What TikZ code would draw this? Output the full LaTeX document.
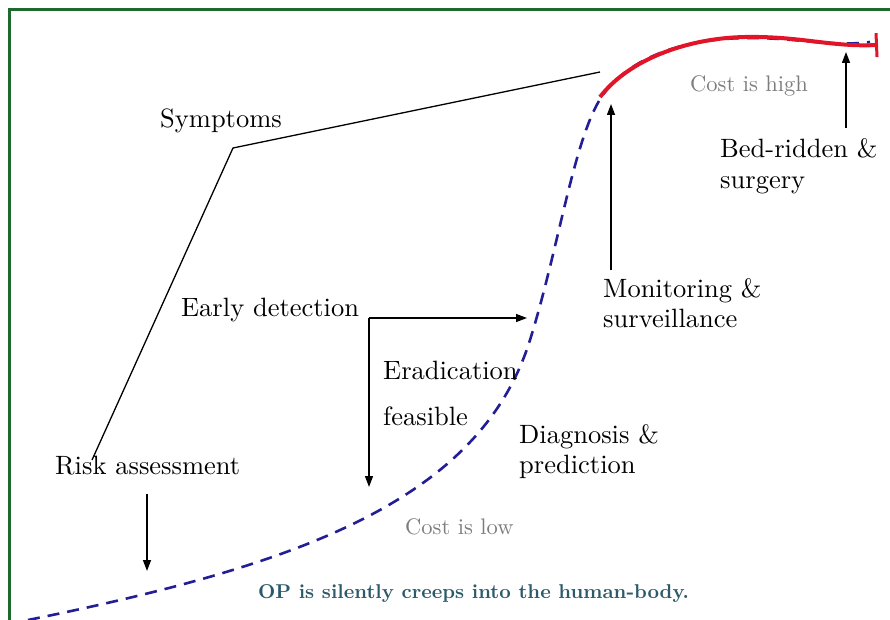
\documentclass[tikz,border=0pt]{standalone}
\usepackage{fontspec}
\setmainfont{lmroman10-regular.otf}[BoldFont=lmroman10-bold.otf, ItalicFont=lmroman10-italic.otf]
\usetikzlibrary{arrows.meta}
\definecolor{framegreen}{RGB}{30,105,45}
\definecolor{curveblue}{RGB}{35,30,150}
\definecolor{curvered}{RGB}{225,20,40}
\definecolor{costgray}{RGB}{125,125,125}
\definecolor{opteal}{RGB}{45,90,105}
\tikzset{
  lbl/.style={anchor=base west, inner sep=0pt, font=\fontsize{26.5}{30}\selectfont, text=black},
  costlbl/.style={anchor=base west, inner sep=0pt, font=\fontsize{22.5}{26}\selectfont, text=costgray},
  oplbl/.style={anchor=base west, inner sep=0pt, font=\fontsize{20}{23}\selectfont\bfseries, text=opteal},
  blackline/.style={line width=1.3pt, black},
  arr/.style={line width=1.4pt, black, -{Triangle[length=11pt,width=8pt]}},
  dashcurve/.style={line width=2.6pt, curveblue, dash pattern=on 12pt off 8pt},
  redcurve/.style={line width=4pt, curvered, -{Bar[width=24pt,line width=3pt]}},
  frame/.style={line width=3pt, framegreen}
}
\begin{document}
\begin{tikzpicture}[x=1pt,y=-1pt]
\useasboundingbox[fill=white] (0,0) rectangle (890,620);
% frame
\draw[frame] (9,620) -- (9,10) -- (890,10);
% curves
\draw[dashcurve] (28,620) .. controls (300,565) and (480,500) .. (530,340)
  .. controls (560,244) and (575,130) .. (605,92)
  .. controls (635,54) and (690,38) .. (750,38)
  .. controls (800,38) and (830,47) .. (870,42);
\draw[redcurve] (600,97) .. controls (630,58) and (690,38) .. (745,37)
  .. controls (800,36) and (830,47) .. (878,45);
% labels
\node[lbl] (sym) at (160,128) {Symptoms};
\node[lbl] (early) at (181,316) {Early detection};
\node[lbl] (erad) at (383,379) {Eradication};
\node[lbl] (feas) at (383,425) {feasible};
\node[lbl] (diag) at (519,443) {Diagnosis \&};
\node[lbl] (pred) at (519,473) {prediction};
\node[lbl] (risk) at (55,474) {Risk assessment};
\node[lbl] (mon) at (603,297) {Monitoring \&};
\node[lbl] (surv) at (603,327) {surveillance};
\node[lbl] (bed) at (720,158) {Bed-ridden \&};
\node[lbl] (surg) at (720,189) {surgery};
\node[costlbl] (costh) at (690,92) {Cost is high};
\node[costlbl] (costl) at (405,534) {Cost is low};
\node[oplbl] (op) at (258,598) {OP is silently creeps into the human-body.};
% black polyline
\coordinate (s0) at (92,460);
\coordinate (s1) at (233,148);
\coordinate (s2) at (600,72);
\draw[blackline] (s0) -- (s1) -- (s2);
% arrows
\coordinate (ec) at (369,318);
\coordinate (ed) at (369,487);
\coordinate (er) at (527,318);
\draw[arr] (ec) -- (ed);
\draw[arr] (ec) -- (er);
\coordinate (r0) at (147,494);
\coordinate (r1) at (147,571);
\draw[arr] (r0) -- (r1);
\coordinate (m0) at (611,270);
\coordinate (m1) at (611,104);
\draw[arr] (m0) -- (m1);
\coordinate (b0) at (846,128);
\coordinate (b1) at (846,52);
\draw[arr] (b0) -- (b1);
\end{tikzpicture}
\end{document}
